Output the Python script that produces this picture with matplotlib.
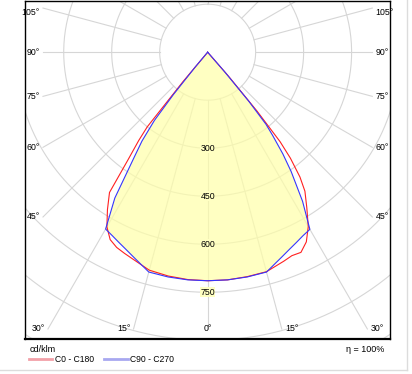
import matplotlib.pyplot as plt
import numpy as np
from matplotlib.lines import Line2D

plt.rcParams['font.family'] = ['Liberation Sans', 'DejaVu Sans']

# gamma angles (deg) and intensities (cd/klm)
gamma = [0, 5, 10, 15, 20, 22.5, 25, 27.5, 30, 32.5, 35, 36.5, 38, 39, 40, 41, 42]
c0 = [714, 714, 712, 710, 695, 688, 690, 668, 629, 577, 530, 485, 420, 360, 240, 100, 0]
c180 = [714, 713, 710, 705, 687, 680, 673, 660, 630, 583, 535, 420, 350, 300, 120, 0, 0]
c90 = [714, 714, 713, 711, 680, 667, 656, 646, 639, 552, 455, 395, 330, 290, 200, 80, 0]
c270 = [714, 714, 713, 711, 680, 667, 656, 646, 638, 540, 400, 345, 270, 170, 60, 0, 0]

rings = [150, 300, 450, 600, 750, 900, 1050, 1200]
ring_labels = [300, 450, 600, 750]
spokes = list(range(0, 181, 15))
angle_labels = [0, 15, 30, 45, 60, 75, 90, 105]

PX = 3.125  # cd/klm per pixel
XMIN, XMAX, YMIN, YMAX = -571, 570, -896, 160
GRID = '#d6d6d6'


def curve(left, right):
    g = np.radians(gamma)
    l = np.array(left, float)
    r = np.array(right, float)
    x = np.concatenate([-(l * np.sin(g))[::-1], r * np.sin(g)])
    y = np.concatenate([-(l * np.cos(g))[::-1], -r * np.cos(g)])
    return x, y


fig = plt.figure(figsize=(4.12, 3.74), dpi=100)
ax = fig.add_axes([25/412, 35/374, 365/412, 338/374])
ax.set_xlim(XMIN, XMAX)
ax.set_ylim(YMIN, YMAX)
ax.set_xticks([])
ax.set_yticks([])
for s in ax.spines.values():
    s.set_linewidth(1.0)
ax.spines['bottom'].set_linewidth(1.6)

# rings
t = np.linspace(0, 2*np.pi, 400)
for r in rings:
    ax.plot(r*np.sin(t), r*np.cos(t), color=GRID, lw=0.8, zorder=1)

# spokes and angle labels
in_x = -XMIN - 18*PX
in_y = -YMIN - 10*PX
for a in spokes:
    ar = np.radians(a)
    for side in (-1, 1):
        if a in (0, 180) and side == 1:
            continue
        dx, dy = side*np.sin(ar), -np.cos(ar)
        if a in angle_labels:
            tt = []
            if abs(dx) > 1e-6:
                tt.append(in_x/abs(dx))
            if dy < -1e-6:
                tt.append(in_y/(-dy))
            tend = min(tt)
        else:
            tend = 1400
        ax.plot([150*dx, tend*dx], [150*dy, tend*dy], color=GRID, lw=0.8, zorder=1)
        if a in angle_labels:
            ex, ey = tend*dx, min(tend*dy, YMAX - 11*PX)
            if a == 0:
                ax.text(ex, ey, '0°', ha='center', va='center', fontsize=6.3)
            else:
                ax.text(ex + side*3*PX, ey, '%d°' % a, ha='left' if side > 0 else 'right',
                        va='center', fontsize=6.3)

# fill and curves
xb, yb = curve(c270, c90)
xr, yr = curve(c180, c0)
ax.fill(xb, yb, color='#ffffa8', alpha=0.7, lw=0, zorder=2)
ax.plot(xr, yr, color='#ff2020', lw=0.8, zorder=3)
ax.plot(xb, yb, color='#3535ff', lw=0.8, zorder=4)

for v in ring_labels:
    ax.text(0, -v, str(v), ha='center', va='center', fontsize=6.3, zorder=5,
            bbox=dict(boxstyle='square,pad=0.05', fc='#ffffc2', ec='none'))

# legend and footer texts
fig.text(30/412, 1 - 349/374, 'cd/klm', ha='left', va='center', fontsize=6.5)
fig.text(384/412, 1 - 349/374, 'η = 100%', ha='right', va='center', fontsize=6.5)
fig.add_artist(Line2D([29/412, 52/412], [1 - 359/374]*2, color='#f2a0a8', lw=2))
fig.text(55/412, 1 - 359/374, 'C0 - C180', ha='left', va='center', fontsize=6.2)
fig.add_artist(Line2D([104/412, 128/412], [1 - 359/374]*2, color='#a8a8f0', lw=2))
fig.text(130/412, 1 - 359/374, 'C90 - C270', ha='left', va='center', fontsize=6.2)

# outer light frame
fig.add_artist(Line2D([407/412, 407/412], [1 - 370/374, 1], color='#dcdcdc', lw=1))
fig.add_artist(Line2D([0, 407/412], [1 - 370/374]*2, color='#dcdcdc', lw=1))

plt.savefig('out.png', dpi=100)
